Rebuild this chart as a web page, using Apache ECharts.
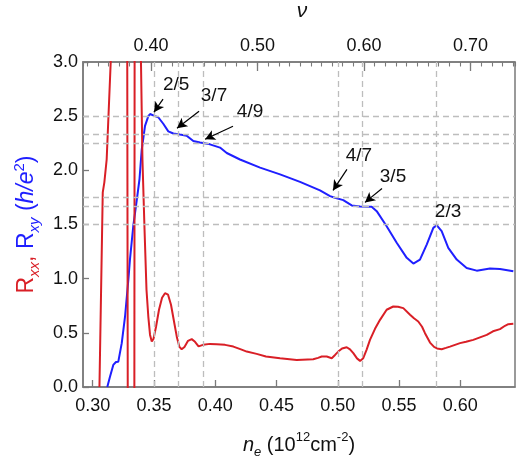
<!DOCTYPE html>
<html><head><meta charset="utf-8">
<script src="https://cdn.jsdelivr.net/npm/echarts@6/dist/echarts.min.js"></script>
<style>html,body{margin:0;padding:0;background:#fff}#c{width:519px;height:456px}</style>
</head><body><div id="c"></div>
<script>
// ---- data (n_e in 1e12 cm^-2, resistance in h/e^2) ----
const rxyN = [0.3119,0.3141,0.3168,0.3190,0.3209,0.3237,0.3264,0.3291,0.3304,0.3331,0.3364,0.3382,0.3400,0.3427,0.3454,0.3468,0.3508,0.3535,0.3576,0.3617,0.3658,0.3712,0.3767,0.3821,0.3876,0.3957,0.4039,0.4094,0.4202,0.4366,0.4529,0.4692,0.4855,0.4937,0.4977,0.5045,0.5114,0.5182,0.5277,0.5318,0.5399,0.5481,0.5563,0.5617,0.5671,0.5726,0.5780,0.5807,0.5848,0.5902,0.5971,0.6052,0.6134,0.6242,0.6324,0.6433];
const rxyR = [0.00,0.095,0.204,0.231,0.234,0.405,0.651,0.991,1.176,1.484,1.762,1.92,2.19,2.41,2.50,2.52,2.50,2.49,2.43,2.36,2.34,2.33,2.32,2.27,2.256,2.24,2.21,2.16,2.10,2.025,1.963,1.894,1.815,1.762,1.747,1.725,1.676,1.667,1.664,1.623,1.484,1.331,1.192,1.139,1.176,1.315,1.469,1.494,1.438,1.284,1.176,1.099,1.074,1.093,1.090,1.068];
const rxxN = [0.3055,0.3082,0.3091,0.3095,0.3114,0.3147,0.3215,0.3282,0.3286,0.3313,0.3340,0.3342,0.3368,0.3394,0.3406,0.3423,0.3439,0.3454,0.3468,0.3482,0.3496,0.3517,0.3541,0.3566,0.3590,0.3615,0.3639,0.3664,0.3688,0.3708,0.3726,0.3749,0.3778,0.3808,0.3835,0.3864,0.3900,0.3957,0.4012,0.4080,0.4148,0.4210,0.4257,0.4338,0.4414,0.4529,0.4665,0.4800,0.4839,0.4869,0.4910,0.4951,0.4978,0.5004,0.5035,0.5073,0.5100,0.5127,0.5157,0.5182,0.5208,0.5235,0.5263,0.5304,0.5345,0.5399,0.5453,0.5492,0.5535,0.5590,0.5622,0.5657,0.5688,0.5712,0.5753,0.5786,0.5810,0.5848,0.5883,0.5916,0.5957,0.5998,0.6047,0.6106,0.6161,0.6216,0.6267,0.6324,0.6365,0.6392,0.6433];
const rxxR = [0.00,1.796,1.805,1.889,2.10,3.00,8.0,3.00,0.00,-3.0,0.00,3.00,8.0,3.00,2.10,1.454,0.898,0.648,0.481,0.421,0.444,0.556,0.713,0.824,0.866,0.852,0.759,0.602,0.454,0.370,0.349,0.370,0.426,0.442,0.417,0.375,0.389,0.398,0.395,0.389,0.373,0.347,0.327,0.306,0.282,0.266,0.250,0.256,0.269,0.281,0.281,0.266,0.296,0.327,0.356,0.367,0.347,0.312,0.264,0.241,0.266,0.343,0.435,0.537,0.620,0.713,0.743,0.741,0.728,0.667,0.634,0.605,0.556,0.497,0.410,0.370,0.356,0.349,0.361,0.373,0.389,0.405,0.417,0.435,0.458,0.481,0.514,0.534,0.565,0.580,0.583];
// filling factors nu = p/q marked on the plot
const fractionP = [2,3,4,4,3,2];
const fractionQ = [5,7,9,7,5,3];
const fractionText = ['2/5','3/7','4/9','4/7','3/5','2/3'];
const nuPerDensity = 1.1507;      // nu = nuPerDensity * n_e
const densityRange = [0.29208, 0.64466];
const resistanceRange = [0, 3];

// ---- annotation placement (data coordinates) ----
const labelAt  = [[0.3681,2.787],[0.3990,2.685],[0.4284,2.537],[0.5173,2.139],[0.5451,1.944],[0.5900,1.620]];
const arrowTail = [[0.3574,2.657],[0.3868,2.546],[0.4145,2.407],[0.5075,2.009],[0.5361,1.833],null];
const arrowTip  = [[0.3500,2.537],[0.3688,2.389],[0.3917,2.287],[0.4961,1.815],[0.5222,1.704],null];

const FONT = 'Liberation Sans, Arial, Helvetica, sans-serif';
const AXIS = '#7a7a7a';
const TXT = '#111111';
const RED = '#d91f26';
const BLUE = '#1f1fff';

function multipleFmt(step, dec){
  return v => Math.abs(v/step - Math.round(v/step)) < 1e-6 ? v.toFixed(dec) : '';
}

const nuLines = fractionP.map((p,i)=>({xAxis: p/fractionQ[i]/nuPerDensity}));
const rLines = fractionP.map((p,i)=>({yAxis: fractionQ[i]/p}));
const arrows = [];
arrowTail.forEach((t,i)=>{ if(t) arrows.push([{coord:t},{coord:arrowTip[i]}]); });
const labelPoints = labelAt.map((p,i)=>({coord:p, value:fractionText[i]}));

const chart = echarts.init(document.getElementById('c'), null, {renderer:'canvas'});
chart.setOption({
  animation:false,
  backgroundColor:'#fff',
  textStyle:{fontFamily:FONT},
  grid:{left:83,right:4,top:62,bottom:69,outerBoundsMode:'none',containLabel:false,show:true,borderColor:AXIS,borderWidth:1.5,backgroundColor:'transparent'},
  xAxis:[
    {type:'value',position:'bottom',min:densityRange[0],max:densityRange[1],minInterval:0.05,maxInterval:0.05,
     axisLine:{lineStyle:{color:AXIS,width:1.5}},axisTick:{inside:true,length:7,lineStyle:{color:AXIS,width:1.3}},
     axisLabel:{fontSize:18,color:TXT,margin:10,fontFamily:FONT,formatter:multipleFmt(0.05,2),showMinLabel:false,showMaxLabel:false},
     splitLine:{show:false},
     name:'{i|n}{sub|e}{t| (10}{sup|12}{t|cm}{sup|-2}{t|)}',nameLocation:'middle',nameGap:44,
     nameTextStyle:{fontFamily:FONT,color:TXT,rich:{
       i:{fontSize:20,fontStyle:'italic',fontFamily:FONT,color:TXT,lineHeight:28,verticalAlign:'middle'},
       t:{fontSize:20,fontFamily:FONT,color:TXT,lineHeight:28,verticalAlign:'middle'},
       sub:{fontSize:13,fontStyle:'italic',fontFamily:FONT,color:TXT,lineHeight:13,verticalAlign:'bottom'},
       sup:{fontSize:13,fontFamily:FONT,color:TXT,lineHeight:13,verticalAlign:'top'}}}},
    {type:'value',position:'top',min:densityRange[0]*nuPerDensity,max:densityRange[1]*nuPerDensity,minInterval:0.1,maxInterval:0.1,
     axisLine:{show:true,lineStyle:{color:AXIS,width:1.5}},axisTick:{inside:true,length:9,lineStyle:{color:AXIS,width:1.3}},
     axisLabel:{fontSize:18,color:TXT,margin:7,fontFamily:FONT,formatter:multipleFmt(0.1,2),showMinLabel:false,showMaxLabel:false},
     splitLine:{show:false},
     name:'ν',nameLocation:'middle',nameGap:40,nameTextStyle:{fontSize:21,fontStyle:'italic',color:TXT,fontFamily:FONT,padding:[0,0,0,6]}},
    {type:'value',position:'top',min:densityRange[0]*nuPerDensity,max:densityRange[1]*nuPerDensity,minInterval:0.01,maxInterval:0.01,
     axisLine:{show:false},axisTick:{inside:true,length:4.5,lineStyle:{color:AXIS,width:1.1}},
     axisLabel:{show:false},splitLine:{show:false}}
  ],
  yAxis:[{type:'value',min:resistanceRange[0],max:resistanceRange[1],interval:0.5,
     axisLine:{show:true,lineStyle:{color:AXIS,width:1.5}},axisTick:{show:true,inside:true,length:6,lineStyle:{color:AXIS,width:1.3}},
     axisLabel:{fontSize:18,color:TXT,margin:5,fontFamily:FONT,formatter:v=>v.toFixed(1)},
     splitLine:{show:false},
     name:'{r|R}{rs|xx}{r|, }{b|R}{bs|xy}{b| (}{bi|h/e}{bp|2}{b|)}',nameLocation:'middle',nameRotate:90,nameGap:38,
     nameTextStyle:{fontFamily:FONT,rich:{
       r:{fontSize:23,color:RED,fontFamily:FONT,lineHeight:30,verticalAlign:'middle'},
       rs:{fontSize:15,color:RED,fontStyle:'italic',fontFamily:FONT,lineHeight:15,verticalAlign:'bottom'},
       b:{fontSize:23,color:BLUE,fontFamily:FONT,lineHeight:30,verticalAlign:'middle'},
       bi:{fontSize:23,color:BLUE,fontStyle:'italic',fontFamily:FONT,lineHeight:30,verticalAlign:'middle'},
       bs:{fontSize:15,color:BLUE,fontStyle:'italic',fontFamily:FONT,lineHeight:15,verticalAlign:'bottom'},
       bp:{fontSize:15,color:BLUE,fontFamily:FONT,lineHeight:15,verticalAlign:'top'}}}}],
  series:[
    {type:'line',data:[],silent:true,z:1,
     markLine:{silent:true,symbol:['none','none'],animation:false,label:{show:false},
       lineStyle:{color:'#bdbdbd',type:[6,4],width:1.3},emphasis:{disabled:true},
       data:nuLines.concat(rLines)}},
    {type:'line',name:'Rxy',data:rxyN.map((n,i)=>[n,rxyR[i]]),showSymbol:false,clip:true,z:3,
     lineStyle:{color:BLUE,width:2},itemStyle:{color:BLUE}},
    {type:'line',name:'Rxx',data:rxxN.map((n,i)=>[n,rxxR[i]]),showSymbol:false,clip:true,z:4,
     lineStyle:{color:RED,width:2},itemStyle:{color:RED}},
    {type:'line',data:[],silent:true,z:5,
     markLine:{silent:true,symbol:['none','arrow'],symbolSize:[8,10],animation:false,label:{show:false},
       lineStyle:{color:'#000',type:'solid',width:1.2},emphasis:{disabled:true},data:arrows},
     markPoint:{silent:true,symbol:'circle',symbolSize:1,itemStyle:{color:'rgba(0,0,0,0)'},animation:false,
       label:{show:true,position:'inside',formatter:p=>p.value,fontSize:19,color:TXT,fontFamily:FONT},
       emphasis:{disabled:true},data:labelPoints}}
  ]
});
</script></body></html>
